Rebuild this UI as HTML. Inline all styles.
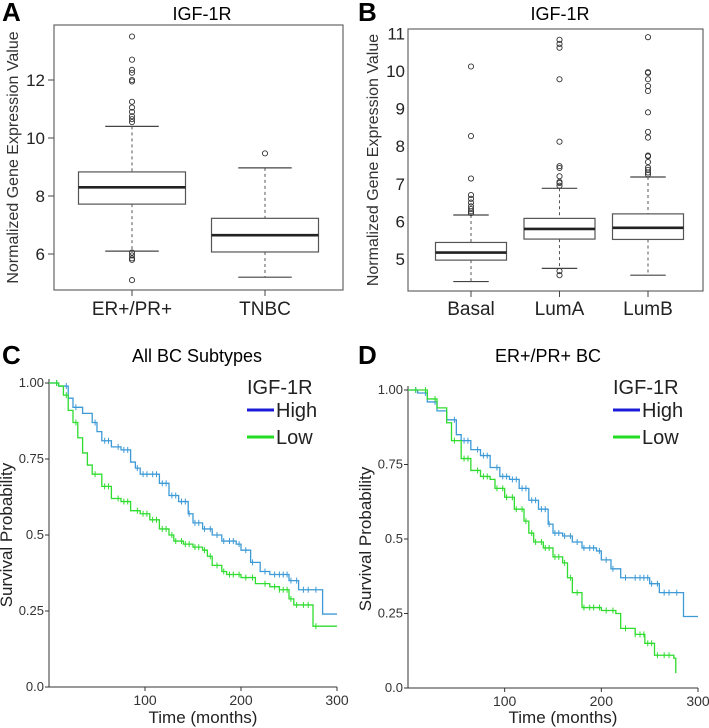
<!DOCTYPE html>
<html><head><meta charset="utf-8"><style>
body{margin:0;background:#fff}
svg{display:block;font-family:"Liberation Sans",sans-serif}
</style></head><body>
<svg id="fig" width="709" height="728" viewBox="0 0 709 728"></svg>
<script>
// Panel A data
const aCats=["ER+/PR+","TNBC"];
const aQ1=[7.72,6.07],aMed=[8.3,6.65],aQ3=[8.83,7.23],aLo=[6.1,5.2],aHi=[10.4,8.97];
const aOut=[[13.5,12.7,12.35,12.25,12.0,11.95,11.25,11.05,10.9,10.75,10.65,10.55,6.05,5.95,5.85,5.8,5.1],[9.47]];
const aTicks=[6,8,10,12];
// Panel B data
const bCats=["Basal","LumA","LumB"];
const bQ1=[4.97,5.53,5.52],bMed=[5.17,5.8,5.83],bQ3=[5.44,6.08,6.2],bLo=[4.4,4.75,4.57],bHi=[6.17,6.88,7.18];
const bOut=[[10.12,8.27,7.14,6.7,6.6,6.5,6.4,6.33,6.27,6.22],[10.83,10.72,10.62,9.78,8.12,7.47,7.42,7.2,7.05,7.02,6.95,4.68,4.57],[10.9,9.97,9.95,9.78,9.6,9.47,8.9,8.38,8.23,7.75,7.73,7.58,7.43,7.37,7.3,7.25]];
const bTicks=[5,6,7,8,9,10,11];
// Panel C data
const cHighT=[0,10,20,25,35,45,50,55,65,75,85,90,95,105,115,125,135,145,150,160,170,180,195,200,210,220,230,250,260,285,300];
const cHighS=[1,0.99,0.95,0.92,0.9,0.87,0.84,0.81,0.79,0.78,0.74,0.72,0.70,0.70,0.67,0.63,0.61,0.57,0.54,0.52,0.50,0.48,0.47,0.45,0.41,0.38,0.37,0.35,0.32,0.24,0.24];
const cLowT=[0,10,15,20,25,30,35,40,45,55,65,75,85,95,105,115,125,130,140,150,160,165,170,180,185,200,215,230,240,250,255,275,300];
const cLowS=[1,0.99,0.96,0.91,0.87,0.82,0.77,0.73,0.70,0.66,0.62,0.61,0.58,0.57,0.55,0.52,0.50,0.48,0.47,0.46,0.45,0.43,0.40,0.38,0.37,0.36,0.34,0.33,0.32,0.29,0.27,0.20,0.20];
// Panel D data
const dHighT=[0,10,20,30,40,50,55,65,75,85,95,105,115,125,135,145,150,160,170,180,195,200,210,220,250,260,285,300];
const dHighS=[1,0.99,0.96,0.93,0.9,0.85,0.83,0.8,0.78,0.74,0.71,0.70,0.67,0.63,0.60,0.55,0.52,0.51,0.49,0.47,0.46,0.43,0.40,0.37,0.35,0.32,0.24,0.24];
const dLowT=[0,20,30,40,45,55,65,75,85,90,100,110,120,125,130,140,150,160,165,170,180,200,215,220,235,245,255,275,277];
const dLowS=[1,0.97,0.94,0.89,0.83,0.77,0.73,0.71,0.70,0.67,0.64,0.60,0.56,0.52,0.49,0.47,0.44,0.42,0.37,0.32,0.27,0.26,0.25,0.20,0.18,0.15,0.11,0.10,0.05];
const censorT=[8,18,28,48,58,62,72,78,82,92,98,102,108,112,118,122,128,132,138,142,146,152,156,162,168,175,182,188,192,198,205,212,225,235,240,244,248,252,258,265,270,278];
const survTicks=[0,0.25,0.5,0.75,1.0],survLabels=["0.0","0.25","0.5","0.75","1.00"];
const timeTicks=[100,200,300];

const NS="http://www.w3.org/2000/svg",svg=document.getElementById('fig');
function el(tag,attrs,parent,txt){const e=document.createElementNS(NS,tag);for(const k in attrs)e.setAttribute(k,attrs[k]);if(txt!==undefined)e.textContent=txt;(parent||svg).appendChild(e);return e;}
function grp(name){const g=el('g',{});return g;}

function boxPanel(pid,letter,lx,box,yOf,ticks,cats,cx,bw,q1,med,q3,lo,hi,out,titleX,tickLen,tickFs,ylX){
  const g=grp(pid);
  const L=el('text',{x:lx,y:21,'font-size':26,'font-weight':'bold'},g,letter);
  
  const t=el('text',{x:titleX,y:20,'font-size':18,'text-anchor':'middle'},g,'IGF-1R');
  
  const fr=el('rect',{x:box[0],y:box[1],width:box[2]-box[0],height:box[3]-box[1],fill:'none',stroke:'#666','stroke-width':1.2},g);
  
  ticks.forEach(v=>{const y=yOf(v);
    if(tickLen>0)el('line',{x1:box[0]-tickLen,x2:box[0],y1:y,y2:y,stroke:'#444'},g);
    const tl=el('text',{x:box[0]-tickLen-3,y:y+6,'font-size':tickFs,'text-anchor':'end',fill:'#222'},g,String(v));
    });
  const yl=el('text',{x:0,y:0,'font-size':16,'text-anchor':'middle',fill:'#333',transform:`translate(${ylX},${(box[1]+box[3])/2}) rotate(-90)`},g,'Normalized Gene Expression Value');
  
  cats.forEach((c,i)=>{const x=cx(i);
    const bg=el('g',{},g);
    el('line',{x1:x,x2:x,y1:box[3],y2:box[3]+6,stroke:'#444'},bg);
    el('line',{x1:x,x2:x,y1:yOf(hi[i]),y2:yOf(q3[i]),stroke:'#555','stroke-dasharray':'3,3'},bg);
    el('line',{x1:x,x2:x,y1:yOf(q1[i]),y2:yOf(lo[i]),stroke:'#555','stroke-dasharray':'3,3'},bg);
    [hi[i],lo[i]].forEach(v=>el('line',{x1:x-bw/4,x2:x+bw/4,y1:yOf(v),y2:yOf(v),stroke:'#444','stroke-width':1.2},bg));
    el('rect',{x:x-bw/2,y:yOf(q3[i]),width:bw,height:yOf(q1[i])-yOf(q3[i]),fill:'#fff',stroke:'#555','stroke-width':1.2},bg);
    el('line',{x1:x-bw/2,x2:x+bw/2,y1:yOf(med[i]),y2:yOf(med[i]),stroke:'#222','stroke-width':2.6},bg);
    out[i].forEach(v=>el('circle',{cx:x,cy:yOf(v),r:2.6,fill:'none',stroke:'#333','stroke-width':0.9},bg));
    const xl=el('text',{x:x,y:315,'font-size':19,'text-anchor':'middle',fill:'#222'},g,c);
    
  });
}
boxPanel('panel-a','A',2,[54,25,343,290],v=>254-(v-6)*29,aTicks,aCats,i=>132+i*133,107,aQ1,aMed,aQ3,aLo,aHi,aOut,202,6,17,18);
boxPanel('panel-b','B',358,[408,29,703,291],v=>259-(v-5)*37.6,bTicks,bCats,i=>471+i*88.5,71,bQ1,bMed,bQ3,bLo,bHi,bOut,560,0,17,378);

function kmPanel(pid,letter,lx,title,titleX,x0,x1,y1,y0,hT,hS,lT,lS,legX){
  const X=t=>x0+t*(x1-x0)/300, Y=p=>y0-p*(y0-y1);
  const g=grp(pid);
  const L=el('text',{x:lx,y:364,'font-size':26,'font-weight':'bold'},g,letter);
  
  const t=el('text',{x:titleX,y:362,'font-size':18,'text-anchor':'middle'},g,title);
  
  const ax=el('path',{d:`M${x0},${y1-4}V${y0}H${x1}`,fill:'none',stroke:'#333','stroke-width':1},g);
  
  survTicks.forEach((p,i)=>{el('line',{x1:x0-4,x2:x0,y1:Y(p),y2:Y(p),stroke:'#333'},g);
    const tl=el('text',{x:x0-5,y:Y(p)+4,'font-size':13,'text-anchor':'end',fill:'#333'},g,survLabels[i]);
    });
  timeTicks.forEach(v=>{el('line',{x1:X(v),x2:X(v),y1:y0,y2:y0+4,stroke:'#333'},g);
    const tl=el('text',{x:X(v),y:y0+18,'font-size':14,'text-anchor':'middle',fill:'#333'},g,String(v));
    });
  const xt=el('text',{x:(x0+x1)/2+10,y:723,'font-size':17,'text-anchor':'middle',fill:'#222'},g,'Time (months)');
  
  const yt=el('text',{x:0,y:0,'font-size':17,'text-anchor':'middle',fill:'#222',transform:`translate(${x0-37},${(y0+y1)/2}) rotate(-90)`},g,'Survival Probability');
  
  function curve(T,S,col,name){
    let d=`M${X(T[0])},${Y(S[0])}`;
    for(let i=1;i<T.length;i++){d+=`H${X(T[i])}V${Y(S[i])}`;}
    const p=el('path',{d,fill:'none',stroke:col,'stroke-width':1.3},g);
    
    censorT.forEach(c=>{if(c>T[T.length-1])return;let s=S[0];for(let i=0;i<T.length;i++)if(T[i]<=c)s=S[i];
      el('line',{x1:X(c),x2:X(c),y1:Y(s)-3,y2:Y(s)+3,stroke:col,'stroke-width':1},g);});
  }
  curve(hT,hS,'#3d9ad6','km-high-curve');
  curve(lT,lS,'#2fdc2f','km-low-curve');
  const lg=el('g',{},g);
  el('text',{x:legX,y:394,'font-size':20,fill:'#222'},lg,'IGF-1R');
  el('line',{x1:legX,x2:legX+27,y1:410,y2:410,stroke:'#1c1cd8','stroke-width':3},lg);
  const h=el('text',{x:legX+29,y:417,'font-size':20,fill:'#222'},lg,'High');
  
  el('line',{x1:legX,x2:legX+27,y1:437,y2:437,stroke:'#22dd22','stroke-width':3},lg);
  const l=el('text',{x:legX+29,y:444,'font-size':20,fill:'#222'},lg,'Low');
  
}
kmPanel('panel-c','C',2,'All BC Subtypes',197,49,337,383,687,cHighT,cHighS,cLowT,cLowS,247);
kmPanel('panel-d','D',358,'ER+/PR+ BC',548,408,698,390,688,dHighT,dHighS,dLowT,dLowS,613);
</script>
</body></html>
